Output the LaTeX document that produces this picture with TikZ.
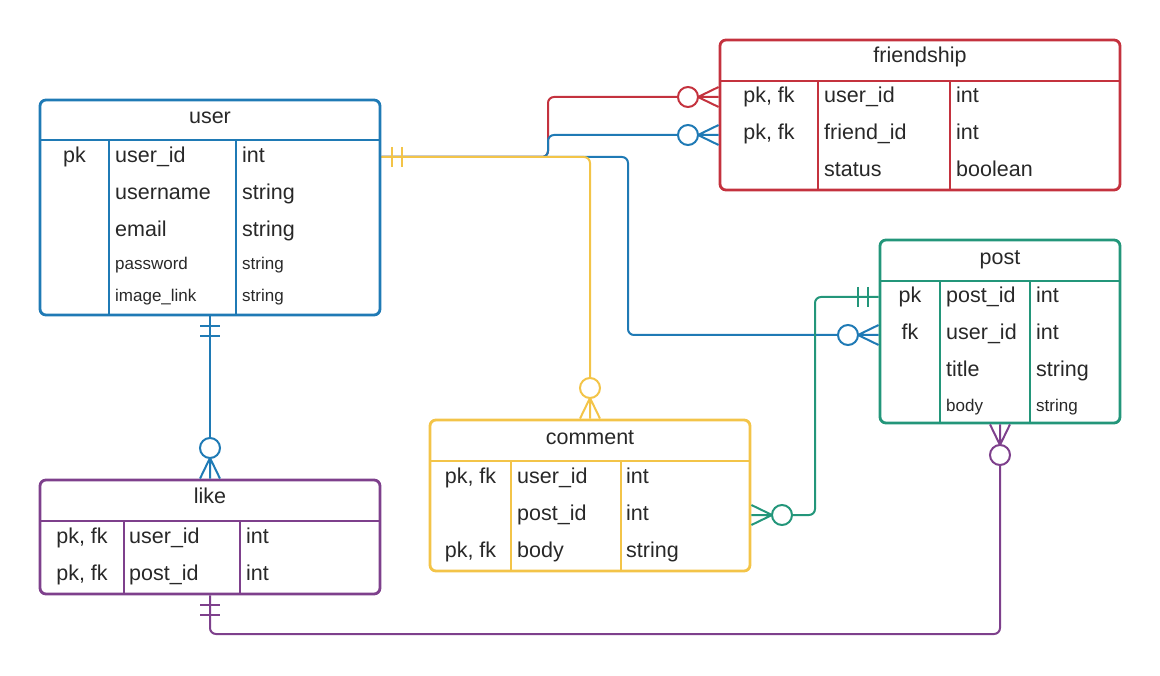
\documentclass[tikz,border=0pt]{standalone}
\usepackage{fontspec}
\setmainfont{Liberation Sans}
\usetikzlibrary{calc}
\definecolor{ublue}{RGB}{31,122,181}
\definecolor{fred}{RGB}{196,50,62}
\definecolor{pgreen}{RGB}{35,150,122}
\definecolor{cyellow}{RGB}{243,196,72}
\definecolor{lpurple}{RGB}{126,64,140}
\definecolor{txt}{RGB}{40,40,40}
\begin{document}
\begin{tikzpicture}[x=1pt,y=-1pt,
 tbl/.style={draw, line width=2.8pt, rounded corners=6pt, inner sep=0pt},
 tline/.style={line width=2.8pt},
 conn/.style={line width=2pt, rounded corners=6pt},
 mk/.style={line width=2pt},
 hdr/.style={font=\fontsize{21.5}{24}\selectfont, text=txt, anchor=base, inner sep=0pt},
 key/.style={font=\fontsize{21.5}{24}\selectfont, text=txt, anchor=base, inner sep=0pt},
 fld/.style={font=\fontsize{21.5}{24}\selectfont, text=txt, anchor=base west, inner sep=0pt},
 sfld/.style={font=\fontsize{17}{20}\selectfont, text=txt, anchor=base west, inner sep=0pt},
 ]
\useasboundingbox (0,0) rectangle (1160,676);

% ---------- user ----------
\node[tbl, ublue, minimum width=340pt, minimum height=215pt] (user) at (210,207.5) {};
\draw[tline, ublue] (40,140) -- (380,140);
\draw[tline, ublue] (109,140) -- (109,315);
\draw[tline, ublue] (236,140) -- (236,315);
\node[hdr] (userh) at (210,124) {user};
\node[key] (user1k) at (74.5,163) {pk};
\node[fld] (user1n) at (115,163) {user\_id};
\node[fld] (user1t) at (242,163) {int};
\node[fld] (user2n) at (115,200) {username};
\node[fld] (user2t) at (242,200) {string};
\node[fld] (user3n) at (115,237) {email};
\node[fld] (user3t) at (242,237) {string};
\node[sfld] (user4n) at (115,270) {password};
\node[sfld] (user4t) at (242,270) {string};
\node[sfld] (user5n) at (115,302) {image\_link};
\node[sfld] (user5t) at (242,302) {string};

% ---------- friendship ----------
\node[tbl, fred, minimum width=400pt, minimum height=150pt] (fr) at (920,115) {};
\draw[tline, fred] (720,81) -- (1120,81);
\draw[tline, fred] (818,81) -- (818,190);
\draw[tline, fred] (950,81) -- (950,190);
\node[hdr] (frh) at (920,63) {friendship};
\node[key] (fr1k) at (769,103) {pk, fk};
\node[fld] (fr1n) at (824,103) {user\_id};
\node[fld] (fr1t) at (956,103) {int};
\node[key] (fr2k) at (769,140) {pk, fk};
\node[fld] (fr2n) at (824,140) {friend\_id};
\node[fld] (fr2t) at (956,140) {int};
\node[fld] (fr3n) at (824,177) {status};
\node[fld] (fr3t) at (956,177) {boolean};

% ---------- post ----------
\node[tbl, pgreen, minimum width=240pt, minimum height=183pt] (post) at (1000,331.5) {};
\draw[tline, pgreen] (880,281) -- (1120,281);
\draw[tline, pgreen] (940,281) -- (940,423);
\draw[tline, pgreen] (1030,281) -- (1030,423);
\node[hdr] (posth) at (1000,265) {post};
\node[key] (post1k) at (910,303) {pk};
\node[fld] (post1n) at (946,303) {post\_id};
\node[fld] (post1t) at (1036,303) {int};
\node[key] (post2k) at (910,340) {fk};
\node[fld] (post2n) at (946,340) {user\_id};
\node[fld] (post2t) at (1036,340) {int};
\node[fld] (post3n) at (946,377) {title};
\node[fld] (post3t) at (1036,377) {string};
\node[sfld] (post4n) at (946,411) {body};
\node[sfld] (post4t) at (1036,411) {string};

% ---------- comment ----------
\node[tbl, cyellow, minimum width=320pt, minimum height=151pt] (com) at (590,495.5) {};
\draw[tline, cyellow] (430,461) -- (750,461);
\draw[tline, cyellow] (511,461) -- (511,571);
\draw[tline, cyellow] (621,461) -- (621,571);
\node[hdr] (comh) at (590,444) {comment};
\node[key] (com1k) at (470.5,483) {pk, fk};
\node[fld] (com1n) at (517,483) {user\_id};
\node[fld] (com1t) at (626,483) {int};
\node[fld] (com2n) at (517,520) {post\_id};
\node[fld] (com2t) at (626,520) {int};
\node[key] (com3k) at (470.5,557) {pk, fk};
\node[fld] (com3n) at (517,557) {body};
\node[fld] (com3t) at (626,557) {string};

% ---------- like ----------
\node[tbl, lpurple, minimum width=340pt, minimum height=114pt] (like) at (210,537) {};
\draw[tline, lpurple] (40,521) -- (380,521);
\draw[tline, lpurple] (124,521) -- (124,594);
\draw[tline, lpurple] (240,521) -- (240,594);
\node[hdr] (likeh) at (210,503) {like};
\node[key] (like1k) at (82,543) {pk, fk};
\node[fld] (like1n) at (129,543) {user\_id};
\node[fld] (like1t) at (246,543) {int};
\node[key] (like2k) at (82,580) {pk, fk};
\node[fld] (like2n) at (129,580) {post\_id};
\node[fld] (like2t) at (246,580) {int};

% ---------- connectors ----------
% user -> friendship.user_id (red)
\coordinate (c1) at (678,97);
\draw[conn, fred] (user.east |- 0,157) -- (548,157) -- (548,97) -- (c1);
\draw[mk, fred] (688,97) circle (10pt);
\draw[mk, fred] (698,97) -- (fr.west |- 0,87) (698,97) -- (fr.west |- 0,97) (698,97) -- (fr.west |- 0,107);

% user -> friendship.friend_id (blue)
\coordinate (c2) at (678,135);
\draw[conn, ublue] (user.east |- 0,157) -- (548,157) -- (548,135) -- (c2);
\draw[mk, ublue] (688,135) circle (10pt);
\draw[mk, ublue] (698,135) -- (fr.west |- 0,125) (698,135) -- (fr.west |- 0,135) (698,135) -- (fr.west |- 0,145);

% user -> post.user_id (blue)
\coordinate (c3) at (838,335);
\draw[conn, ublue] (user.east |- 0,157) -- (628,157) -- (628,335) -- (c3);
\draw[mk, ublue] (848,335) circle (10pt);
\draw[mk, ublue] (858,335) -- (post.west |- 0,325) (858,335) -- (post.west |- 0,335) (858,335) -- (post.west |- 0,345);

% post -> comment (green)
\coordinate (c4) at (792,515);
\draw[conn, pgreen] (post.west |- 0,297) -- (815,297) -- (815,515) -- (c4);
\draw[mk, pgreen] (858,287) -- (858,307) (868,287) -- (868,307);
\draw[mk, pgreen] (782,515) circle (10pt);
\draw[mk, pgreen] (772,515) -- (com.east |- 0,505) (772,515) -- (com.east |- 0,515) (772,515) -- (com.east |- 0,525);

% user -> comment (yellow)
\coordinate (c5) at (590,378);
\draw[conn, cyellow] (user.east |- 0,157) -- (590,157) -- (c5);
\draw[mk, cyellow] (392,147) -- (392,167) (402,147) -- (402,167);
\draw[mk, cyellow] (590,388) circle (10pt);
\draw[mk, cyellow] (590,398) -- (com.north -| 580,0) (590,398) -- (com.north) (590,398) -- (com.north -| 600,0);

% user -> like (blue)
\coordinate (c6) at (210,438);
\draw[conn, ublue] (user.south) -- (c6);
\draw[mk, ublue] (200,326) -- (220,326) (200,336) -- (220,336);
\draw[mk, ublue] (210,448) circle (10pt);
\draw[mk, ublue] (210,458) -- (like.north -| 200,0) (210,458) -- (like.north) (210,458) -- (like.north -| 220,0);

% like -> post (purple)
\coordinate (c7) at (1000,465);
\draw[conn, lpurple] (like.south) -- (210,634) -- (1000,634) -- (c7);
\draw[mk, lpurple] (200,605) -- (220,605) (200,615) -- (220,615);
\draw[mk, lpurple] (1000,455) circle (10pt);
\draw[mk, lpurple] (1000,445) -- (post.south -| 990,0) (1000,445) -- (post.south) (1000,445) -- (post.south -| 1010,0);
\end{tikzpicture}
\end{document}
